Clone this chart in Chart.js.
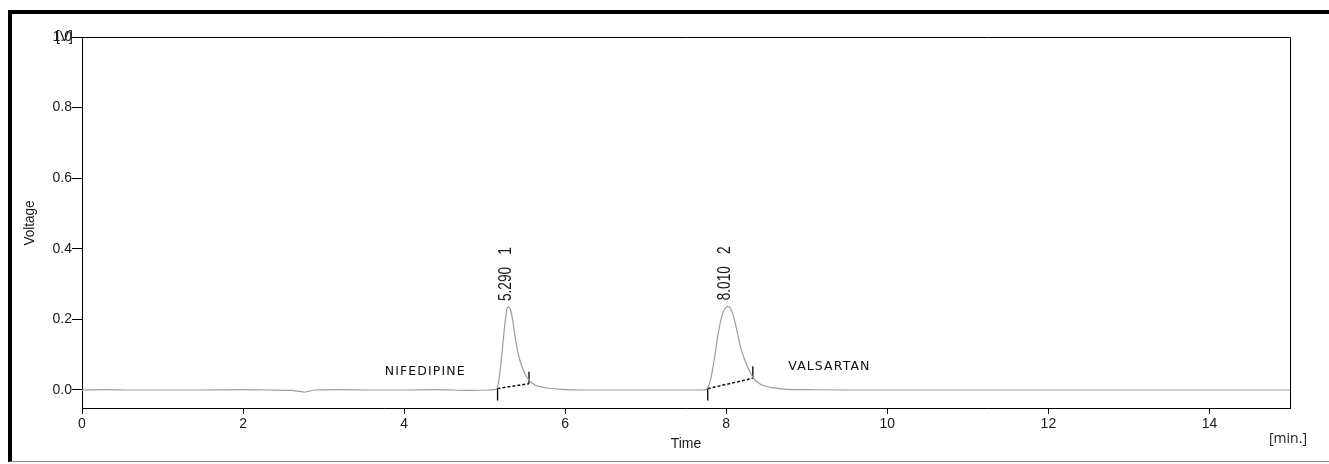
<!DOCTYPE html>
<html>
<head>
<meta charset="utf-8">
<script src="https://cdn.jsdelivr.net/npm/chart.js@4.4.1/dist/chart.umd.min.js"></script>
<style>
  html, body { margin: 0; padding: 0; background: #fff; overflow: hidden; }
  #wrap { position: relative; width: 1329px; height: 464px; }
  #chart { position: absolute; left: 0; top: 0; }
  #frame {
    position: absolute; left: 8px; top: 10px; width: 1400px; height: 447px;
    border-left: 4px solid #000; border-top: 4px solid #000; border-bottom: 1px solid #888;
    pointer-events: none;
  }
</style>
</head>
<body>
<div id="wrap">
  <canvas id="chart" width="1329" height="464"></canvas>
  <div id="frame"></div>
</div>
<script>
// chromatogram trace (minutes / volts)
const timeMin = [0, 0.3, 0.6, 1.0, 1.5, 2.0, 2.3, 2.6, 2.7, 2.76, 2.82, 2.9, 3.2, 3.6, 4.0, 4.4, 4.8, 5.05, 5.12,
  5.15, 5.17, 5.20, 5.23, 5.26, 5.28, 5.30, 5.32, 5.35, 5.385, 5.43, 5.47, 5.51, 5.55, 5.62, 5.70, 5.80, 5.95, 6.2,
  6.6, 7.0, 7.4, 7.70, 7.74, 7.77, 7.80, 7.83, 7.86, 7.89, 7.93, 7.97, 8.02, 8.06, 8.10, 8.14, 8.18, 8.225, 8.28, 8.33,
  8.40, 8.47, 8.60, 8.76, 9.0, 9.5, 10.0, 11.0, 12.0, 13.0, 14.0, 15.0];
const voltage = [0.000, 0.001, 0.000, 0.000, 0.000, 0.001, 0.000, -0.001, -0.004, -0.006, -0.003, 0.000, 0.001, 0.000, 0.000, 0.001, -0.001, 0.000, 0.001,
  0.003, 0.020, 0.070, 0.140, 0.205, 0.232, 0.235, 0.228, 0.195, 0.140, 0.090, 0.062, 0.042, 0.028, 0.015, 0.009, 0.005, 0.002, 0.000,
  0.000, 0.000, 0.000, 0.000, 0.001, 0.006, 0.025, 0.058, 0.100, 0.146, 0.195, 0.225, 0.237, 0.228, 0.200, 0.160, 0.120, 0.088, 0.058, 0.036,
  0.020, 0.012, 0.006, 0.002, 0.001, 0.000, 0.000, 0.000, 0.000, 0.000, 0.000, 0.000];

// peaks
const peakTimes = [5.29, 8.01];
const peakHeights = [0.235, 0.237];
const peakLabels = ['5.290', '8.010'];
const peakNumbers = ['1', '2'];
const compoundNames = ['NIFEDIPINE', 'VALSARTAN'];

// integration baselines
const intStartTime = [5.16, 7.77];
const intStartV = [0.004, 0.004];
const intEndTime = [5.55, 8.33];
const intEndV = [0.018, 0.033];

// axes
const xTicks = [0, 2, 4, 6, 8, 10, 12, 14];
const yTicks = [0.0, 0.2, 0.4, 0.6, 0.8, 1.0];

// where the compound names sit (data coords)
const nameAnchors = [{ x: 3.76, y: 0.053 }, { x: 8.77, y: 0.067 }];

const traceData = timeMin.map((t, i) => ({ x: t, y: voltage[i] }));

const datasets = [{
  data: traceData,
  borderColor: '#9c9c9c',
  borderWidth: 1.2,
  pointRadius: 0,
  cubicInterpolationMode: 'monotone',
  fill: false
}];

intStartTime.forEach((t, i) => {
  // dashed baseline
  datasets.push({
    data: [{ x: t, y: intStartV[i] }, { x: intEndTime[i], y: intEndV[i] }],
    borderColor: '#111', borderWidth: 1.5, borderDash: [3, 2], pointRadius: 0
  });
  // start marker (points down)
  datasets.push({
    data: [{ x: t, y: intStartV[i] + 0.002 }, { x: t, y: intStartV[i] - 0.034 }],
    borderColor: '#000', borderWidth: 1.3, pointRadius: 0
  });
  // end marker (points up)
  datasets.push({
    data: [{ x: intEndTime[i], y: intEndV[i] }, { x: intEndTime[i], y: intEndV[i] + 0.034 }],
    borderColor: '#000', borderWidth: 1.3, pointRadius: 0
  });
});

const extras = {
  id: 'extras',
  afterDraw(chart) {
    const { ctx, chartArea: a, scales: { x, y } } = chart;
    ctx.save();
    // top + right frame of the plot
    ctx.strokeStyle = '#000';
    ctx.lineWidth = 1;
    ctx.beginPath();
    ctx.moveTo(a.left, a.top + 0.5);
    ctx.lineTo(a.right + 0.5, a.top + 0.5);
    ctx.lineTo(a.right + 0.5, a.bottom);
    ctx.stroke();

    ctx.fillStyle = '#1a1a1a';
    // unit over the 1.0 tick
    ctx.font = '14px "Liberation Sans", Arial, sans-serif';
    ctx.textAlign = 'right';
    ctx.textBaseline = 'middle';
    ctx.fillText('[V]', 73, y.getPixelForValue(1.0));

    // axis titles
    ctx.textAlign = 'center';
    ctx.font = '14px "Liberation Sans", Arial, sans-serif';
    ctx.fillText('Time', 686, 444);
    ctx.font = '14px "Open Sans", "Liberation Sans", sans-serif';
    ctx.fillText('[min.]', 1288, 439);
    ctx.save();
    ctx.translate(30, 223);
    ctx.rotate(-Math.PI / 2);
    ctx.scale(0.9, 1);
    ctx.font = '15px "Liberation Sans", Arial, sans-serif';
    ctx.fillText('Voltage', 0, 0);
    ctx.restore();

    // peak labels, rotated
    peakTimes.forEach((t, i) => {
      const px = x.getPixelForValue(t) - 2;
      const py = y.getPixelForValue(peakHeights[i]) - 6;
      ctx.save();
      ctx.translate(px, py);
      ctx.rotate(-Math.PI / 2);
      ctx.scale(0.76, 1);
      ctx.font = '18px "Liberation Sans", Arial, sans-serif';
      ctx.textAlign = 'left';
      ctx.textBaseline = 'middle';
      const w = ctx.measureText(peakLabels[i]).width;
      ctx.fillText(peakLabels[i], 0, 0);
      ctx.fillText(peakNumbers[i], w + 16, 0);
      ctx.restore();
    });

    // compound names
    ctx.font = '12.5px "DejaVu Sans", sans-serif';
    ctx.letterSpacing = '1.1px';
    ctx.textAlign = 'left';
    ctx.textBaseline = 'middle';
    ctx.fillStyle = '#111';
    compoundNames.forEach((name, i) => {
      ctx.fillText(name, x.getPixelForValue(nameAnchors[i].x), y.getPixelForValue(nameAnchors[i].y));
    });
    ctx.restore();
  }
};

new Chart(document.getElementById('chart'), {
  type: 'line',
  data: { datasets },
  options: {
    responsive: false,
    animation: false,
    layout: { padding: { left: 0, right: 39, top: 37, bottom: 0 } },
    plugins: { legend: { display: false }, tooltip: { enabled: false } },
    scales: {
      x: {
        type: 'linear',
        min: 0,
        max: 15,
        afterBuildTicks: s => { s.ticks = xTicks.map(v => ({ value: v })); },
        afterFit: s => { s.height = 56; },
        grid: { display: true, drawOnChartArea: false, drawTicks: true, tickLength: 6, tickColor: '#000' },
        border: { display: true, color: '#000', width: 1 },
        ticks: {
          color: '#1a1a1a',
          padding: 2,
          maxRotation: 0,
          font: { family: '"Liberation Sans", Arial, sans-serif', size: 14 }
        }
      },
      y: {
        min: -0.051,
        max: 1.0,
        afterBuildTicks: s => { s.ticks = yTicks.map(v => ({ value: v })); },
        afterFit: s => { s.width = 82; },
        grid: { display: true, drawOnChartArea: false, drawTicks: true, tickLength: 10, tickColor: '#000' },
        border: { display: true, color: '#000', width: 1 },
        ticks: {
          color: '#1a1a1a',
          padding: 0,
          callback: v => v.toFixed(1),
          font: { family: '"Liberation Sans", Arial, sans-serif', size: 14 }
        }
      }
    }
  },
  plugins: [extras]
});
</script>
</body>
</html>
